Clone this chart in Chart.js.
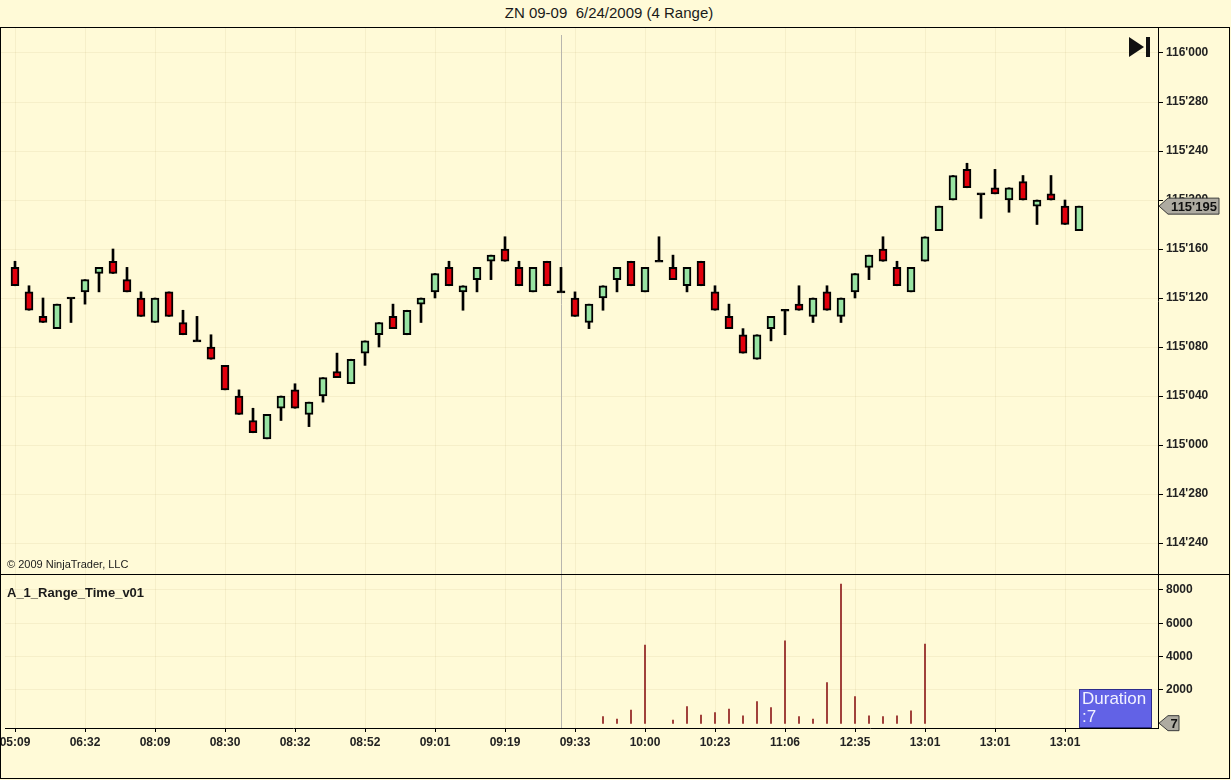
<!DOCTYPE html>
<html lang="en">
<head>
    <meta charset="UTF-8">
    <title>ZN 09-09 6/24/2009 (4 Range)</title>
    <script src="https://cdn.jsdelivr.net/npm/chart.js"></script>
    <style>
        body {
            margin: 0;
            width: 1231px;
            height: 780px;
            overflow: hidden;
            position: relative;
            background-color: #fffad7;
            font-family: Arial, "Liberation Sans", sans-serif;
            color: #1a1a1a;
        }
        #title {
            position: absolute;
            top: 4px;
            left: 0;
            width: 1218px;
            text-align: center;
            font-size: 15px;
            white-space: pre;
        }
        #frame {
            position: absolute;
            left: 0;
            top: 27px;
            width: 1228px;
            height: 750px;
            border: 1px solid #000;
        }
        #divider {
            position: absolute;
            left: 0;
            top: 574px;
            width: 1230px;
            height: 1px;
            background: #000;
        }
        canvas { position: absolute; left: 1px; }
        #price-chart { top: 28px; }
        #duration-chart { top: 575px; }
        #copyright {
            position: absolute;
            left: 7px;
            top: 558px;
            font-size: 11px;
        }
        #indicator {
            position: absolute;
            left: 7px;
            top: 585px;
            font-size: 13px;
            font-weight: bold;
        }
    </style>
</head>
<body>
    <div id="title">ZN 09-09  6/24/2009 (4 Range)</div>
    <div id="frame"></div>
    <canvas id="price-chart" width="1228" height="546"></canvas>
    <div id="divider"></div>
    <canvas id="duration-chart" width="1228" height="200"></canvas>
    <div id="copyright">© 2009 NinjaTrader, LLC</div>
    <div id="indicator">A_1_Range_Time_v01</div>

    <script>
        // Prices are in 32nds of a point: 115'195 = 115*32 + 19.5 = 3699.5
        const opens  = [3694.5, 3692.5, 3690.5, 3689.5, 3692, 3692.5, 3694, 3695, 3693.5, 3692,
                        3690, 3692.5, 3690, 3688.5, 3688, 3686.5, 3684, 3682, 3680.5, 3683,
                        3684.5, 3682.5, 3684, 3686, 3685, 3687.5, 3689, 3690.5, 3689, 3691.5,
                        3692.5, 3694.5, 3692.5, 3693.5, 3695, 3696, 3694.5, 3692.5, 3695, 3692.5,
                        3692, 3690, 3692, 3693.5, 3695, 3692.5, 3695, 3694.5, 3693, 3695,
                        3692.5, 3690.5, 3689, 3687, 3689.5, 3691, 3691.5, 3690.5, 3692.5, 3690.5,
                        3692.5, 3694.5, 3696, 3694.5, 3692.5, 3695, 3697.5, 3700, 3702.5, 3700.5,
                        3701, 3700, 3701.5, 3699.5, 3700.5, 3699.5, 3697.5];
        const highs  = [3695, 3693, 3692, 3691.5, 3692, 3693.5, 3694.5, 3696, 3694.5, 3692.5,
                        3692, 3692.5, 3691, 3690.5, 3689, 3686.5, 3684.5, 3683, 3682.5, 3684,
                        3685, 3683.5, 3685.5, 3687.5, 3687, 3688.5, 3690, 3691.5, 3691, 3692,
                        3694, 3695, 3693, 3694.5, 3695.5, 3697, 3695, 3694.5, 3695, 3694.5,
                        3692.5, 3691.5, 3693, 3694.5, 3695, 3694.5, 3697, 3695.5, 3694.5, 3695,
                        3693, 3691.5, 3689.5, 3689, 3690.5, 3691, 3693, 3692, 3693, 3692,
                        3694, 3695.5, 3697, 3695, 3694.5, 3697, 3699.5, 3702, 3703, 3700.5,
                        3702.5, 3701, 3702, 3700, 3702, 3700, 3699.5];
        const lows   = [3693, 3691, 3690, 3689.5, 3690, 3691.5, 3692.5, 3694, 3692.5, 3690.5,
                        3690, 3690.5, 3689, 3688.5, 3687, 3684.5, 3682.5, 3681, 3680.5, 3682,
                        3683, 3681.5, 3683.5, 3685.5, 3685, 3686.5, 3688, 3689.5, 3689, 3690,
                        3692, 3693, 3691, 3692.5, 3693.5, 3695, 3693, 3692.5, 3693, 3692.5,
                        3690.5, 3689.5, 3691, 3692.5, 3693, 3692.5, 3695, 3693.5, 3692.5, 3693,
                        3691, 3689.5, 3687.5, 3687, 3688.5, 3689, 3691, 3690, 3691, 3690,
                        3692, 3693.5, 3695, 3693, 3692.5, 3695, 3697.5, 3700, 3701, 3698.5,
                        3700.5, 3699, 3700, 3698, 3700, 3698, 3697.5];
        const closes = [3693, 3691, 3690, 3691.5, 3692, 3693.5, 3694.5, 3694, 3692.5, 3690.5,
                        3692, 3690.5, 3689, 3688.5, 3687, 3684.5, 3682.5, 3681, 3682.5, 3684,
                        3683, 3683.5, 3685.5, 3685.5, 3687, 3688.5, 3690, 3689.5, 3691, 3692,
                        3694, 3693, 3693, 3694.5, 3695.5, 3695, 3693, 3694.5, 3693, 3692.5,
                        3690.5, 3691.5, 3693, 3694.5, 3693, 3694.5, 3695, 3693.5, 3694.5, 3693,
                        3691, 3689.5, 3687.5, 3689, 3690.5, 3691, 3691, 3692, 3691, 3692,
                        3694, 3695.5, 3695, 3693, 3694.5, 3697, 3699.5, 3702, 3701, 3700.5,
                        3700.5, 3701, 3700, 3700, 3700, 3698, 3699.5];

        // A_1_Range_Time_v01 spikes (only the bars that have one)
        const durationBars   = [42, 43, 44, 45, 47, 48, 49, 50, 51, 52, 53, 54,
                                55, 56, 57, 58, 59, 60, 61, 62, 63, 64, 65];
        const durationValues = [400, 250, 800, 4700, 200, 1000, 500, 650, 850, 450, 1300, 950,
                                4950, 400, 250, 2450, 8350, 1600, 450, 400, 450, 750, 4750];
        const currentDuration = 7;

        const timeLabels = ["05:09", "06:32", "08:09", "08:30", "08:32", "08:52", "09:01", "09:19",
                            "09:33", "10:00", "10:23", "11:06", "12:35", "13:01", "13:01", "13:01"];
        const labelBars = [0, 5, 10, 15, 20, 25, 30, 35, 40, 45, 50, 55, 60, 65, 70, 75];
        const priceTicks = [3672, 3676, 3680, 3684, 3688, 3692, 3696, 3700, 3704, 3708, 3712];
        const durationTicks = [2000, 4000, 6000, 8000];
        const cursorBar = 39;

        const UP = "#98e4a2";
        const DOWN = "#e2000c";
        const GRID = "rgba(140,120,40,0.08)";
        const TICK_FONT = { size: 12, weight: "bold" };

        Chart.defaults.font.family = 'Arial, "Liberation Sans", sans-serif';
        Chart.defaults.color = "#222";

        function fmtPrice(v) {
            const whole = Math.floor(v / 32);
            const frac = Math.round((v - whole * 32) * 10);
            return whole + "'" + String(frac).padStart(3, "0");
        }

        // gray vertical cursor line through both panels
        const cursorLine = {
            id: "cursorLine",
            beforeDatasetsDraw(chart, args, opts) {
                const ctx = chart.ctx;
                const x = Math.round(chart.scales.x.getPixelForValue(cursorBar)) + 0.5;
                ctx.save();
                ctx.strokeStyle = "#b8b6ae";
                ctx.lineWidth = 1;
                ctx.beginPath();
                ctx.moveTo(x, chart.chartArea.top + (opts.offsetTop || 0));
                ctx.lineTo(x, chart.chartArea.bottom);
                ctx.stroke();
                ctx.restore();
            }
        };

        function pentagon(ctx, x, y, w, h, label, font) {
            ctx.beginPath();
            ctx.moveTo(x, y);
            ctx.lineTo(x + 9, y - h / 2);
            ctx.lineTo(x + w, y - h / 2);
            ctx.lineTo(x + w, y + h / 2);
            ctx.lineTo(x + 9, y + h / 2);
            ctx.closePath();
            ctx.fillStyle = "#aeaba1";
            ctx.fill();
            ctx.strokeStyle = "#3a3a3a";
            ctx.lineWidth = 1;
            ctx.stroke();
            ctx.fillStyle = "#111";
            ctx.font = font;
            ctx.textAlign = "center";
            ctx.textBaseline = "middle";
            ctx.fillText(label, x + 5 + w / 2, y + 1);
        }

        const priceExtras = {
            id: "priceExtras",
            afterDraw(chart) {
                const ctx = chart.ctx;
                const right = chart.chartArea.right;
                ctx.save();
                // last price marker
                const y = chart.scales.y.getPixelForValue(closes[closes.length - 1]);
                pentagon(ctx, right + 1, y, 60, 16, fmtPrice(closes[closes.length - 1]),
                         'bold 13px Arial, "Liberation Sans", sans-serif');
                // "scroll to end" icon
                ctx.fillStyle = "#111";
                ctx.beginPath();
                ctx.moveTo(right - 29, 9);
                ctx.lineTo(right - 14, 19);
                ctx.lineTo(right - 29, 29);
                ctx.closePath();
                ctx.fill();
                ctx.fillRect(right - 12, 9, 4, 20);
                ctx.restore();
            }
        };

        const durationExtras = {
            id: "durationExtras",
            afterDraw(chart) {
                const ctx = chart.ctx;
                const {right, bottom} = chart.chartArea;
                ctx.save();
                const y = chart.scales.y.getPixelForValue(currentDuration);
                pentagon(ctx, right + 1, y, 20, 15, String(currentDuration),
                         'bold 13px Arial, "Liberation Sans", sans-serif');
                // duration box
                const bx = right - 79, by = bottom - 39;
                ctx.fillStyle = "#6262e6";
                ctx.fillRect(bx, by, 73, 39);
                ctx.strokeStyle = "#2c2c8c";
                ctx.strokeRect(bx + 0.5, by + 0.5, 72, 38);
                ctx.fillStyle = "#f2f2ff";
                ctx.font = '17px Arial, "Liberation Sans", sans-serif';
                ctx.textAlign = "left";
                ctx.textBaseline = "alphabetic";
                ctx.fillText("Duration", bx + 3, by + 15);
                ctx.fillText(":" + currentDuration, bx + 3, by + 33);
                ctx.restore();
            }
        };

        // bar index -> pixel on the page: x = 15 + 14*i
        const pageToBar = x => (x - 15) / 14;

        // ---------- price panel ----------
        const bodyData = opens.map((o, i) => ({
            x: i,
            y: o === closes[i] ? [o - 0.08, o + 0.08] : [o, closes[i]]
        }));
        const wickData = opens.map((o, i) => ({ x: i, y: [lows[i], highs[i]] }));

        new Chart(document.getElementById("price-chart"), {
            type: "bar",
            data: {
                datasets: [
                    {
                        data: bodyData,
                        order: 0,
                        grouped: false,
                        barThickness: 8,
                        borderWidth: 2,
                        borderSkipped: false,
                        borderColor: "#000",
                        backgroundColor: ctx => {
                            const i = ctx.dataIndex;
                            if (closes[i] > opens[i]) return UP;
                            if (closes[i] < opens[i]) return DOWN;
                            return "#000";
                        }
                    },
                    {
                        data: wickData,
                        order: 1,
                        grouped: false,
                        barThickness: 2,
                        borderWidth: 0,
                        backgroundColor: "#000"
                    }
                ]
            },
            options: {
                responsive: false,
                animation: false,
                devicePixelRatio: 1,
                layout: { padding: 0 },
                plugins: {
                    legend: { display: false },
                    tooltip: { enabled: false },
                    cursorLine: { offsetTop: 7 }
                },
                scales: {
                    x: {
                        type: "linear",
                        offset: false,
                        min: pageToBar(1),
                        max: pageToBar(1158),
                        afterBuildTicks: s => { s.ticks = labelBars.map(v => ({ value: v })); },
                        afterFit: s => { s.height = 0; s.paddingLeft = 0; s.paddingRight = 0; },
                        ticks: { display: false },
                        grid: { color: GRID, drawTicks: false, offset: false },
                        border: { display: false }
                    },
                    y: {
                        position: "right",
                        min: 3712 - (574 - 53) / 12.25,
                        max: 3712 + (53 - 28) / 12.25,
                        afterBuildTicks: s => { s.ticks = priceTicks.map(v => ({ value: v })); },
                        afterFit: s => { s.width = 71; s.paddingTop = 0; s.paddingBottom = 0; },
                        ticks: {
                            font: TICK_FONT,
                            color: "#222",
                            padding: 3,
                            callback: v => fmtPrice(v)
                        },
                        grid: { color: GRID, tickColor: "#000", tickLength: 5 },
                        border: { color: "#000", width: 1 }
                    }
                }
            },
            plugins: [cursorLine, priceExtras]
        });

        // ---------- duration panel ----------
        new Chart(document.getElementById("duration-chart"), {
            type: "bar",
            data: {
                datasets: [{
                    data: durationBars.map((b, k) => ({ x: b, y: durationValues[k] })),
                    barThickness: 1,
                    borderWidth: 0,
                    backgroundColor: "#8e1c1c"
                }]
            },
            options: {
                responsive: false,
                animation: false,
                devicePixelRatio: 1,
                layout: { padding: { left: 4, right: 0, top: 0, bottom: 0 } },
                plugins: {
                    legend: { display: false },
                    tooltip: { enabled: false }
                },
                scales: {
                    x: {
                        type: "linear",
                        offset: false,
                        min: pageToBar(5),
                        max: pageToBar(1158),
                        afterBuildTicks: s => { s.ticks = labelBars.map(v => ({ value: v })); },
                        afterFit: s => { s.height = 47; s.paddingLeft = 0; s.paddingRight = 0; },
                        ticks: {
                            font: TICK_FONT,
                            color: "#222",
                            maxRotation: 0,
                            autoSkip: false,
                            padding: 3,
                            callback: v => timeLabels[labelBars.indexOf(v)]
                        },
                        grid: { color: GRID, tickColor: "#000", tickLength: 4, offset: false },
                        border: { color: "#000", width: 1 }
                    },
                    y: {
                        position: "right",
                        min: -(728 - 723.3) / 100 * 6000,
                        max: (723.3 - 575) / 100 * 6000,
                        afterBuildTicks: s => { s.ticks = durationTicks.map(v => ({ value: v })); },
                        afterFit: s => { s.width = 71; s.paddingTop = 0; s.paddingBottom = 0; },
                        ticks: {
                            font: TICK_FONT,
                            color: "#222",
                            padding: 3,
                            callback: v => String(v)
                        },
                        grid: { color: GRID, tickColor: "#000", tickLength: 5 },
                        border: { color: "#000", width: 1 }
                    }
                }
            },
            plugins: [cursorLine, durationExtras]
        });
    </script>
</body>
</html>
